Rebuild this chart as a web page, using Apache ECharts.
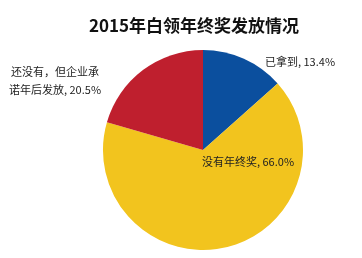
<!DOCTYPE html>
<html><head><meta charset="utf-8">
<script src="https://cdn.jsdelivr.net/npm/echarts@6/dist/echarts.min.js"></script>
<style>html,body{margin:0;padding:0;background:#fff}#c{width:362px;height:258px}</style>
</head><body><div id="c"></div>
<script>
const titleText = '2015年白领年终奖发放情况';
const categories = ['已拿到', '没有年终奖', '还没有，但企业承\n诺年后发放'];
const values = [13.4, 66.0, 20.5];
const colors = ['#0b4f9e', '#f2c41e', '#bf1f2e'];
const labelPos = [
  {x: 300, y: 62, align: 'center'},
  {x: 248, y: 162, align: 'center'},
  {x: 55, y: 81, align: 'center'}
];
const chart = echarts.init(document.getElementById('c'));
chart.setOption({
  animation: false,
  title: {
    text: titleText, left: 189, top: 12, textAlign: 'center',
    textStyle: {fontFamily: 'Noto Sans CJK SC', fontSize: 17, fontWeight: 'bold', color: '#111'}
  },
  series: [{
    type: 'pie',
    center: [203, 150],
    radius: 100,
    startAngle: 90,
    clockwise: true,
    data: categories.map((c, i) => ({name: c, value: values[i], itemStyle: {color: colors[i]}})),
    label: {
      show: true,
      position: 'inside',
      overflow: 'none',
      formatter: p => p.name + ', ' + p.value.toFixed(1) + '%',
      fontFamily: 'Noto Sans CJK SC', fontSize: 11, color: '#222', lineHeight: 18, align: 'center'
    },
    labelLine: {show: false},
    labelLayout: p => Object.assign({verticalAlign: 'middle'}, labelPos[p.dataIndex])
  }]
});
</script></body></html>
